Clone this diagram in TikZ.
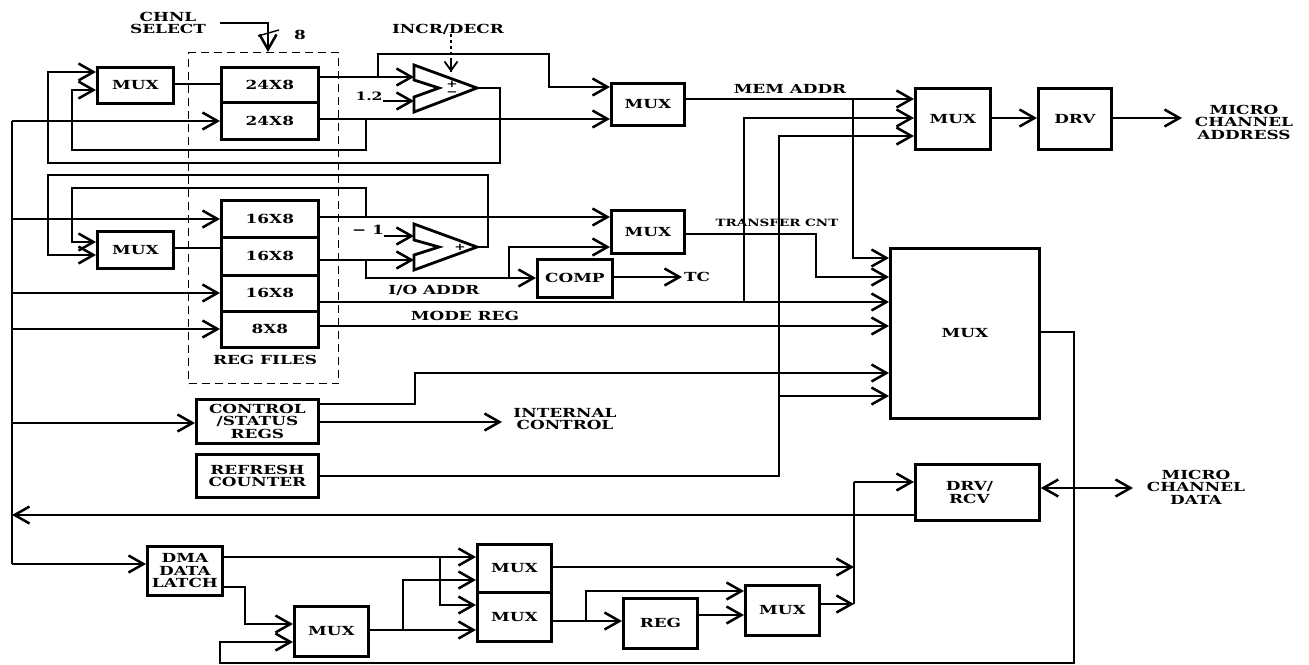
\documentclass[tikz,border=0pt]{standalone}
\usepackage{fontspec}
\setmainfont{DejaVu Serif}[BoldFont={DejaVu Serif Bold},FakeStretch=1.35]
\usetikzlibrary{arrows.meta}
\tikzset{
  x=1pt,y=-1pt,
  barb/.tip={Straight Barb[length=15pt,width=17pt,line width=2.5pt]},
  blk/.style={draw=black,line width=2.8pt,fill=white,inner sep=0pt,align=center,font=\fontsize{12.5}{12.5}\selectfont\bfseries},
  wire/.style={draw=black,line width=1.4pt},
  arr/.style={wire,-barb},
  dbl/.style={wire,barb-barb},
  txt/.style={inner sep=0pt,align=center,font=\fontsize{12.5}{12.5}\selectfont\bfseries},
  fine/.style={txt,font=\fontsize{10}{10}\selectfont\bfseries},
}
\newcommand{\bx}[6]{\node[blk,minimum width=#4pt-#2pt,minimum height=#5pt-#3pt,anchor=north west] (#1) at (#2,#3) {#6};}
\begin{document}
\begin{tikzpicture}
\useasboundingbox (0,0) rectangle (1309,664);
% dashed
\node[draw=black,line width=1.4pt,dash pattern=on 8pt off 5pt,minimum width=150pt,minimum height=331pt,anchor=north west,inner sep=0pt] (regf) at (188,52) {};
% left bus
\coordinate (busT) at (12,121);
\coordinate (busB) at (12,564);
\draw[wire] (busT)--(busB);
\bx{mA}{96}{66}{172}{102}{MUX}
\bx{rA}{220}{66}{317}{101}{24X8}
\bx{rB}{220}{101}{317}{138}{24X8}
\bx{mB}{96}{230}{172}{267}{MUX}
\bx{rC}{220}{199}{317}{236}{16X8}
\bx{rD}{220}{236}{317}{274}{16X8}
\bx{rE}{220}{274}{317}{310}{16X8}
\bx{rF}{220}{310}{317}{346}{8X8}
\bx{ctl}{195}{398}{317}{442}{CONTROL\\/STATUS\\REGS}
\bx{rfs}{195}{453}{317}{496}{REFRESH\\COUNTER}
\bx{mC}{610}{82}{683}{124}{MUX}
\bx{mD}{610}{209}{683}{252}{MUX}
\bx{cmp}{536}{258}{611}{296}{COMP}
\bx{mE}{914}{87}{989}{148}{MUX}
\bx{drv}{1037}{87}{1110}{148}{DRV}
\bx{big}{889}{247}{1038}{417}{\raisebox{-6pt}{MUX}}
\bx{dr}{914}{463}{1038}{519}{DRV/\hspace*{16pt}\\RCV\hspace*{16pt}}
\bx{dma}{146}{545}{221}{594}{DMA\\DATA\\LATCH}
\bx{mF}{293}{605}{367}{655}{MUX}
\bx{mG}{476}{543}{550}{591}{MUX}
\bx{mH}{476}{591}{550}{640}{MUX}
\bx{reg}{622}{597}{696}{647}{REG}
\bx{mI}{744}{584}{818}{634}{MUX}
% adders
\draw[line width=2.8pt,fill=white,line join=miter] (414,65)--(477,88)--(414,112)--(414,97)--(439,88)--(414,80)--cycle;
\coordinate (addAw) at (414,88);
\coordinate (addAe) at (477,88);
\draw[line width=2.8pt,fill=white,line join=miter] (414,224)--(477,247)--(414,270)--(414,255)--(439,247)--(414,240)--cycle;
\coordinate (addBw) at (414,247);
\coordinate (addBe) at (477,247);
\node[fine] (pl1) at (452,84) {+};
\node[fine] (mi1) at (452,94) {−};
\node[fine] (pl2) at (460,247) {+};
% labels
\node[txt] (chnl) at (168,23) {CHNL\\SELECT};
\node[txt] (eight) at (300,35) {8};
\node[txt] (incr) at (448,29) {INCR/DECR};
\node[txt,font=\fontsize{11.5}{11.5}\selectfont\bfseries] (onetwo) at (369,96) {1.2};
\node[txt] (mone) at (368,230) {− 1};
\node[txt] (ioa) at (434,290) {I/O ADDR};
\node[txt] (mrg) at (465,316) {MODE REG};
\node[txt] (mema) at (790,89) {MEM ADDR};
\node[fine] (tcnt) at (777,223) {TRANSFER CNT};
\node[txt] (tc) at (697,277) {TC};
\node[txt] (files) at (265,360) {REG FILES};
\node[txt] (intc) at (565,419) {INTERNAL\\CONTROL};
\node[txt] (mca) at (1244,122) {MICRO\\CHANNEL\\ADDRESS};
\node[txt] (mcd) at (1196,487) {MICRO\\CHANNEL\\DATA};
% free ends
\coordinate (cs1) at (220,23);
\coordinate (out1) at (1182,118);
\coordinate (out2) at (1133,488);
\coordinate (icEnd) at (502,422);
\coordinate (tcEnd) at (682,277);
\coordinate (jV) at (854,482);
\draw[arr] (cs1)-|(regf.north-|268,0);
\draw[wire] (258,36)--(279,30);
\draw[wire,dash pattern=on 3pt off 3pt] (incr.south-|451,0)--(451,72);
\draw[wire,-{Straight Barb[length=9pt,width=13pt,line width=1.8pt]}] (451,60)--(451,72);
% top group
\draw[arr] (addAe)--(500,88)--(500,163)--(48,163)--(48,72)--(mA.west|-0,72);
\draw[arr] (366,119)--(366,150)--(72,150)--(72,90)--(mA.west|-0,90);
\draw[wire] (mA.east|-0,84)--(rA.west|-0,84);
\draw[arr] (busT)--(rB.west|-0,121);
\draw[arr] (rA.east|-0,77)--(addAw|-0,77);
\draw[arr] (378,77)--(378,54)--(549,54)--(549,87)--(mC.west|-0,87);
\draw[arr] (rB.east|-0,119)--(mC.west|-0,119);
\draw[arr] (onetwo.east|-0,101)--(addAw|-0,101);
% lower group
\draw[arr] (addBe)--(488,247)--(488,175)--(48,175)--(48,255)--(mB.west|-0,255);
\draw[arr] (366,217)--(366,188)--(72,188)--(72,242)--(mB.west|-0,242);
\draw[wire] (mB.east|-0,248)--(rD.west|-0,248);
\draw[arr] (busT|-0,219)--(rC.west|-0,219);
\draw[arr] (busT|-0,293)--(rE.west|-0,293);
\draw[arr] (busT|-0,329)--(rF.west|-0,329);
\draw[arr] (rC.east|-0,217)--(mD.west|-0,217);
\draw[arr] (mone.east|-0,236)--(addBw|-0,236);
\draw[arr] (rD.east|-0,260)--(addBw|-0,260);
\draw[arr] (366,260)--(366,278)--(cmp.west|-0,278);
\draw[arr] (509,278)--(509,247)--(mD.west|-0,247);
\draw[arr] (mD.east|-0,234)--(816,234)--(816,277)--(big.west|-0,277);
\draw[arr] (mC.east|-0,99)--(mE.west|-0,99);
\draw[arr] (853,99)--(853,258)--(big.west|-0,258);
\draw[arr] (rE.east|-0,302)--(big.west|-0,302);
\draw[arr] (744,302)--(744,118)--(mE.west|-0,118);
\draw[arr] (rF.east|-0,326)--(big.west|-0,326);
\draw[arr] (rfs.east|-0,476)--(779,476)--(779,136)--(mE.west|-0,136);
\draw[arr] (779,396)--(big.west|-0,396);
\draw[arr] (ctl.east|-0,404)--(415,404)--(415,373)--(big.west|-0,373);
\draw[arr] (ctl.east|-0,422)--(icEnd);
\draw[arr] (cmp.east|-0,277)--(tcEnd);
\draw[arr] (mE.east|-0,118)--(drv.west|-0,118);
\draw[arr] (drv.east|-0,118)--(out1);
\draw[arr] (busT|-0,423)--(ctl.west|-0,423);
\draw[arr] (dr.west|-0,515)--(busT|-0,515);
\draw[arr] (busB)--(dma.west|-0,564);
\draw[arr] (dma.east|-0,557)--(mG.west|-0,557);
\draw[arr] (440,557)--(440,605)--(mH.west|-0,605);
\draw[arr] (dma.east|-0,587)--(245,587)--(245,624)--(mF.west|-0,624);
\draw[arr] (mF.east|-0,630)--(mH.west|-0,630);
\draw[arr] (403,630)--(403,580)--(mG.west|-0,580);
\draw[arr] (mG.east|-0,567)--(jV|-0,567);
\draw[arr] (mI.east|-0,604)--(jV|-0,604);
\draw[wire] (jV|-0,604)--(jV);
\draw[arr] (jV)--(dr.west|-0,482);
\draw[arr] (mH.east|-0,621)--(reg.west|-0,621);
\draw[arr] (586,621)--(586,591)--(mI.west|-0,591);
\draw[arr] (reg.east|-0,615)--(mI.west|-0,615);
\draw[arr] (big.east|-0,332)--(1074,332)--(1074,663)--(220,663)--(220,642)--(mF.west|-0,642);
\draw[dbl] (dr.east|-0,488)--(out2);
\end{tikzpicture}
\end{document}
